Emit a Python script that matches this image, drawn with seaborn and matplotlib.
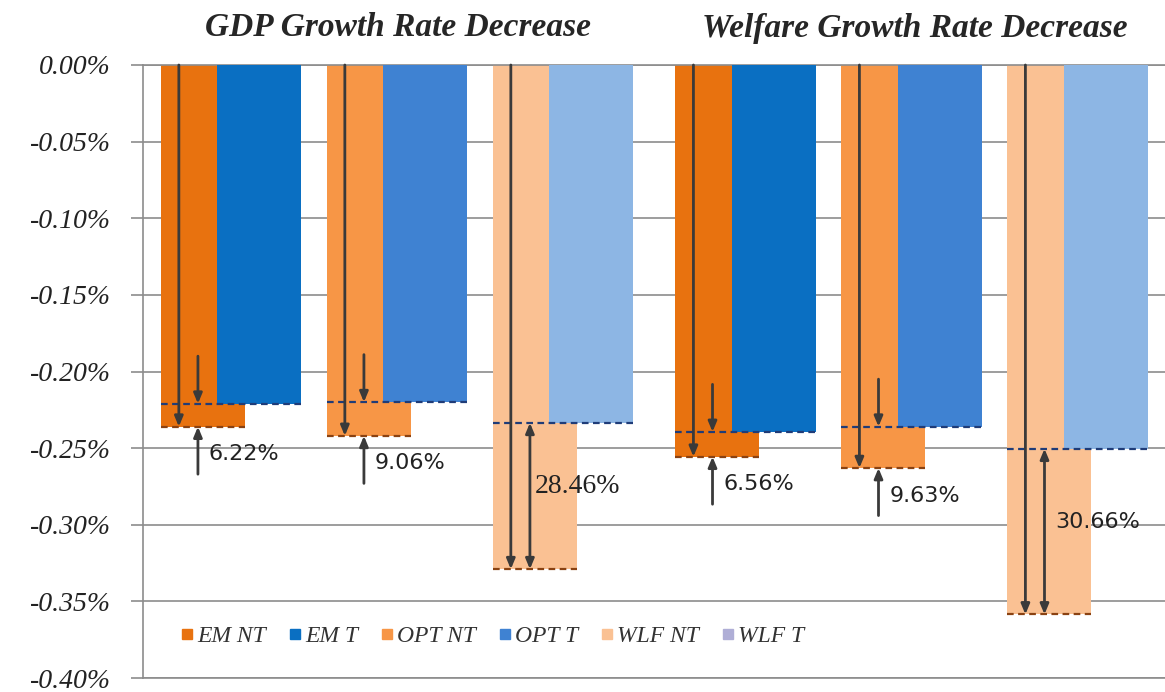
import numpy as np
import pandas as pd
import matplotlib
matplotlib.use("Agg")
import matplotlib.pyplot as plt
from matplotlib.lines import Line2D
import seaborn as sns

# ---------------- data ----------------
panels = ["GDP Growth Rate Decrease", "Welfare Growth Rate Decrease"]
groups = ["EM", "OPT", "WLF", "EM", "OPT", "WLF"]
nt_values = [-0.236, -0.242, -0.329, -0.2556, -0.263, -0.3585]   # %
t_values = [-0.221, -0.220, -0.2335, -0.2394, -0.236, -0.2504]   # %
pct_labels = ["6.22%", "9.06%", "28.46%", "6.56%", "9.63%", "30.66%"]
legend_labels = ["EM NT", "EM T", "OPT NT", "OPT T", "WLF NT", "WLF T"]
y_ticks = [0.0, -0.05, -0.10, -0.15, -0.20, -0.25, -0.30, -0.35, -0.40]

# ---------------- style ----------------
nt_colors = {"EM": "#E8720F", "OPT": "#F79646", "WLF": "#FAC193"}
t_colors = {"EM": "#0A6FC2", "OPT": "#3F82D2", "WLF": "#8DB6E4"}
legend_colors = ["#E8720F", "#0A6FC2", "#F79646", "#3F82D2", "#FAC193", "#AFAED6"]

sns.set_style("white")
plt.rcParams["font.family"] = ["DejaVu Sans"]

W, H = 1165, 692
fig = plt.figure(figsize=(W / 100, H / 100), dpi=100)
ax = fig.add_axes([143 / W, 1 - 678 / H, 1 - 143 / W, (678 - 65) / H])

gap = 0.1
centers = np.array([i + (gap if i >= 3 else 0.0) for i in range(len(groups))])
off = 0.169
bw = 0.506

nt_df = pd.DataFrame({"x": centers - off, "value": nt_values, "grp": groups})
t_df = pd.DataFrame({"x": centers + off, "value": t_values, "grp": groups})

sns.barplot(data=nt_df, x="x", y="value", hue="grp", palette=nt_colors,
            native_scale=True, width=bw, dodge=False, legend=False,
            saturation=1, orient="x", errorbar=None, ax=ax, zorder=2)
sns.barplot(data=t_df, x="x", y="value", hue="grp", palette=t_colors,
            native_scale=True, width=bw, dodge=False, legend=False,
            saturation=1, orient="x", errorbar=None, ax=ax, zorder=3)
for p in ax.patches:
    p.set_edgecolor("none")

# dashed lines at bar bottoms
for c, nt, t in zip(centers, nt_values, t_values):
    ax.hlines(t, c - off - bw / 2, c + off + bw / 2, colors="#1F3C78",
              linestyles=(0, (3, 2)), lw=1.6, zorder=4)
    ax.hlines(nt, c - off - bw / 2, c - off + bw / 2, colors="#8A4212",
              linestyles=(0, (3, 2)), lw=1.6, zorder=4)

arrow_kw = dict(arrowstyle="-|>,head_length=0.6,head_width=0.25", color="#3A3A3A",
                lw=2.0, shrinkA=0, shrinkB=0)
double_kw = dict(arrowstyle="<|-|>,head_length=0.6,head_width=0.25", color="#3A3A3A",
                 lw=2.0, shrinkA=0, shrinkB=0)

for i, (c, nt, t, lab) in enumerate(zip(centers, nt_values, t_values, pct_labels)):
    xl = c - 0.314
    xs = c - 0.199
    # long arrow from 0 to NT bottom
    ax.annotate("", xy=(xl, nt), xytext=(xl, 0.0), arrowprops=arrow_kw, zorder=5)
    if groups[i] == "WLF":
        ax.annotate("", xy=(xs, nt), xytext=(xs, t), arrowprops=double_kw, zorder=5)
        mid = (nt + t) / 2 + 0.006
        if i == 2:
            ax.text(xs + 0.03, mid, lab, fontsize=20, family=["Liberation Serif"],
                    va="center", ha="left", color="#222222", zorder=6)
        else:
            ax.text(xs + 0.065, mid, lab, fontsize=16, va="center",
                    ha="left", color="#222222", zorder=6)
    else:
        ax.annotate("", xy=(xs, t), xytext=(xs, t + 0.031), arrowprops=arrow_kw, zorder=5)
        ax.annotate("", xy=(xs, nt), xytext=(xs, nt - 0.031), arrowprops=arrow_kw, zorder=5)
        ax.text(xs + 0.065, nt - 0.018, lab, fontsize=16, va="center",
                ha="left", color="#222222", zorder=6)

# axes formatting
ax.set_xlim(-0.530, 5.627)
ax.set_ylim(-0.40, 0.0)
ax.set_yticks(y_ticks)
ax.set_yticklabels([f"{v:.2f}%" if v != 0 else "0.00%" for v in y_ticks],
                   family=["Liberation Serif"], style="italic", fontsize=20,
                   color="#222222")
ax.set_xticks([])
ax.set_xlabel("")
ax.set_ylabel("")
ax.yaxis.grid(True, color="#8C8C8C", lw=1.2, zorder=0)
ax.set_axisbelow(True)
ax.tick_params(axis="y", length=9, width=1.2, color="#8C8C8C", pad=14, left=True)
ax.spines["right"].set_visible(False)
for s in ["left", "top", "bottom"]:
    ax.spines[s].set_color("#8C8C8C")
    ax.spines[s].set_linewidth(1.2)

# titles
fig.text(398 / W, 1 - 28 / H, panels[0], ha="center", va="center",
         family=["Liberation Serif"], style="italic", weight="bold", fontsize=24)
fig.text(915 / W, 1 - 28 / H, panels[1], ha="center", va="center",
         family=["Liberation Serif"], style="italic", weight="bold", fontsize=24)

# legend
handles = [Line2D([], [], marker="s", ls="", color=c, markersize=7) for c in legend_colors]
ax.legend(handles, legend_labels, loc="center left", bbox_to_anchor=(0.012, 0.068),
          ncol=6, frameon=False, handletextpad=0.0, columnspacing=0.75,
          handlelength=0.9, prop={"family": "Liberation Serif", "style": "italic", "size": 17},
          labelcolor="#333333")

fig.savefig("out.png", dpi=100)
